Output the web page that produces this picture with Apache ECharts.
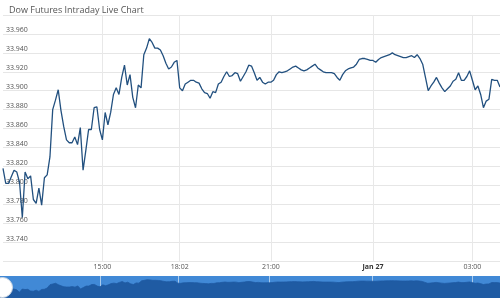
<!DOCTYPE html>
<html>
<head>
<meta charset="utf-8">
<script src="https://cdn.jsdelivr.net/npm/echarts@6/dist/echarts.min.js"></script>
<style>
html,body{margin:0;padding:0;background:#fff;}
#chart{width:500px;height:300px;}
</style>
</head>
<body>
<div id="chart"></div>
<script>
// Dow futures intraday prices, one reading per sample step
const prices = [
33.818,33.802,33.802,33.809,33.816,33.814,33.803,33.766,33.814,33.807,
33.810,33.785,33.781,33.797,33.779,33.808,33.811,33.830,33.880,33.890,
33.901,33.879,33.862,33.848,33.845,33.845,33.851,33.843,33.861,33.816,
33.837,33.859,33.859,33.882,33.883,33.859,33.848,33.877,33.864,33.877,
33.896,33.903,33.896,33.914,33.927,33.906,33.917,33.893,33.882,33.906,
33.903,33.938,33.945,33.955,33.951,33.945,33.945,33.943,33.937,33.929,
33.923,33.925,33.930,33.932,33.903,33.900,33.907,33.909,33.911,33.911,
33.909,33.908,33.902,33.898,33.897,33.892,33.899,33.898,33.907,33.909,
33.915,33.920,33.915,33.916,33.919,33.918,33.910,33.915,33.920,33.927,
33.926,33.919,33.911,33.914,33.909,33.907,33.909,33.909,33.911,33.917,
33.920,33.919,33.920,33.921,33.923,33.925,33.926,33.924,33.922,33.921,
33.922,33.924,33.926,33.928,33.924,33.922,33.920,33.919,33.919,33.919,
33.918,33.914,33.911,33.917,33.921,33.923,33.924,33.925,33.928,33.933,
33.934,33.934,33.933,33.932,33.932,33.930,33.933,33.935,33.936,33.937,
33.938,33.940,33.938,33.937,33.936,33.935,33.935,33.936,33.937,33.935,
33.938,33.934,33.928,33.914,33.900,33.905,33.909,33.914,33.908,33.903,
33.899,33.902,33.905,33.910,33.912,33.919,33.911,33.911,33.915,33.921,
33.911,33.901,33.905,33.896,33.882,33.889,33.891,33.912,33.911,33.911,
33.904
];
// sample positions that carry a time label
const tickIndex = [36, 64, 97, 134, 170];
const tickLabels = ['15:00', '18:02', '21:00', 'Jan 27', '03:00'];
const title = 'Dow Futures Intraday Live Chart';

const categories = prices.map((_, i) => String(i));
const labelFor = i => {
  const k = tickIndex.indexOf(i);
  return k < 0 ? '' : tickLabels[k];
};
const isTick = i => tickIndex.indexOf(i) >= 0;

const chart = echarts.init(document.getElementById('chart'), null, {renderer: 'canvas'});
chart.setOption({
  animation: false,
  backgroundColor: '#fff',
  title: {
    text: title, left: 4, top: 1,
    textStyle: {fontSize: 9, fontWeight: 'normal', color: '#555', fontFamily: 'Open Sans'}
  },
  grid: [
    {left: 3, right: 0, top: 15, bottom: 39},
    {left: 0, right: 0, top: 276, height: 22, show: true, backgroundColor: '#4189d6', borderWidth: 0}
  ],
  xAxis: [
    {
      type: 'category', gridIndex: 0, data: categories, boundaryGap: false,
      axisLine: {show: false}, axisTick: {show: false},
      splitLine: {show: true, interval: (i) => isTick(i), lineStyle: {color: '#e8e8e8', width: 1}},
      axisLabel: {
        interval: (i) => isTick(i), margin: 2,
        fontSize: 7, color: '#555', fontFamily: 'Open Sans',
        formatter: (v, i) => { const s = labelFor(+v); return s === 'Jan 27' ? '{b|' + s + '}' : s; },
        rich: {b: {fontSize: 7, fontWeight: 'bold', color: '#333', fontFamily: 'Open Sans'}}
      }
    },
    {
      type: 'category', gridIndex: 1, data: categories, boundaryGap: false,
      axisLine: {show: false}, axisTick: {show: false},
      splitLine: {show: true, interval: (i) => isTick(i), lineStyle: {color: 'rgba(255,255,255,0.55)', width: 1}},
      axisLabel: {
        inside: true, interval: (i) => isTick(i), margin: 1,
        fontSize: 7, color: '#ffffff', fontFamily: 'Open Sans',
        formatter: (v) => labelFor(+v)
      }
    }
  ],
  yAxis: [
    {
      type: 'value', gridIndex: 0, min: 33.720, max: 33.980, interval: 0.02,
      axisLine: {show: false}, axisTick: {show: false},
      splitLine: {lineStyle: {color: '#e6e6e6', width: 1}},
      axisLabel: {
        inside: true, margin: 3, verticalAlign: 'bottom',
        showMinLabel: false, showMaxLabel: false,
        fontSize: 7, color: '#555', fontFamily: 'Open Sans',
        formatter: (v) => v.toFixed(3)
      }
    },
    {
      type: 'value', gridIndex: 1, min: 33.68, max: 34.01,
      show: false, splitLine: {show: false}
    }
  ],
  series: [
    {
      type: 'line', xAxisIndex: 0, yAxisIndex: 0, data: prices,
      showSymbol: false, symbol: 'none',
      lineStyle: {color: '#22507f', width: 1.3}
    },
    {
      type: 'line', xAxisIndex: 1, yAxisIndex: 1, data: prices,
      showSymbol: false, symbol: 'none',
      lineStyle: {color: '#1f5ba3', width: 0.8},
      areaStyle: {color: '#1f5ba3', opacity: 1}
    }
  ],
  graphic: [
    {
      type: 'circle', left: -8, top: 277, z: 100,
      shape: {r: 10},
      style: {fill: '#ffffff', stroke: '#cfd8e3', lineWidth: 1}
    }
  ]
});
</script>
</body>
</html>
